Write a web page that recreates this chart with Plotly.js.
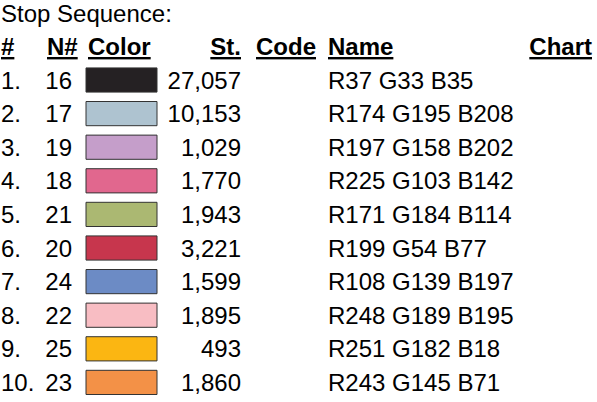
<!DOCTYPE html>
<html><head><meta charset="utf-8">
<script src="https://cdn.plot.ly/plotly-3.0.1.min.js"></script>
<style>html,body{margin:0;padding:0;background:#fff}#chart{width:597px;height:402px}</style>
</head><body><div id="chart"></div>
<script>
// ---- data ----
const titleText = 'Stop Sequence:';
const headers = ['#', 'N#', 'Color', 'St.', 'Code', 'Name', 'Chart'];
const seq = [1, 2, 3, 4, 5, 6, 7, 8, 9, 10];
const needle = [16, 17, 19, 18, 21, 20, 24, 22, 25, 23];
const stitches = [27057, 10153, 1029, 1770, 1943, 3221, 1599, 1895, 493, 1860];
const red = [37, 174, 197, 225, 171, 199, 108, 248, 251, 243];
const green = [33, 195, 158, 103, 184, 54, 139, 189, 182, 145];
const blue = [35, 208, 202, 142, 114, 77, 197, 195, 18, 71];

// ---- layout constants ----
const FONT = 'Liberation Sans, Arial, sans-serif';
const FS = 24;
const X_NUM = 1, X_NEEDLE_R = 72, X_SW = 86, SW_W = 71, X_ST_R = 241, X_CODE = 256, X_NAME = 328, X_CHART_R = 592;
const headerX = [1, 47, 88, X_ST_R, X_CODE, X_NAME, X_CHART_R];
const headerPos = ['middle right', 'middle right', 'middle right', 'middle left', 'middle right', 'middle right', 'middle left'];
const Y_RANGE = [10.583, -1.381];
const TEXT_SHIFT = 0.077; // text baseline tweak (row units)

const names = seq.map((_, i) => 'R' + red[i] + ' G' + green[i] + ' B' + blue[i]);
const colors = seq.map((_, i) => 'rgb(' + red[i] + ',' + green[i] + ',' + blue[i] + ')');
const font = {family: FONT, size: FS, color: '#000'};

const traces = [
  { type: 'bar', orientation: 'h', y: seq, x: seq.map(() => SW_W), base: X_SW, width: 0.72,
    marker: {color: colors, line: {color: '#333333', width: 1}}, hoverinfo: 'skip' },
  { type: 'scatter', mode: 'text', x: headerX, y: headers.map(() => 0), yaxis: 'y2',
    text: headers.map(h => '<u>' + h + '</u>'), textposition: headerPos,
    textfont: Object.assign({}, font, {weight: 'bold'}), hoverinfo: 'skip' },
  { type: 'scatter', mode: 'text', x: seq.map(() => X_NUM), y: seq, yaxis: 'y2',
    text: seq.map(s => s + '.'), textposition: 'middle right', textfont: font, hoverinfo: 'skip' },
  { type: 'scatter', mode: 'text', x: seq.map(() => X_NEEDLE_R), y: seq, yaxis: 'y2',
    text: needle.map(String), textposition: 'middle left', textfont: font, hoverinfo: 'skip' },
  { type: 'scatter', mode: 'text', x: seq.map(() => X_ST_R), y: seq, yaxis: 'y2',
    text: stitches.map(v => v.toLocaleString('en-US')), textposition: 'middle left', textfont: font, hoverinfo: 'skip' },
  { type: 'scatter', mode: 'text', x: seq.map(() => X_NAME), y: seq, yaxis: 'y2',
    text: names, textposition: 'middle right', textfont: font, hoverinfo: 'skip' }
];

const layout = {
  width: 597, height: 402,
  margin: {l: 0, r: 0, t: 0, b: 0, pad: 0},
  paper_bgcolor: '#fff', plot_bgcolor: '#fff',
  showlegend: false, hovermode: false,
  title: {text: titleText, font: font, x: 1 / 597, xref: 'paper', xanchor: 'left',
          y: 1 - 13.5 / 402, yref: 'container', yanchor: 'middle'},
  xaxis: {range: [0, 597], visible: false, fixedrange: true},
  yaxis: {range: Y_RANGE, visible: false, fixedrange: true},
  yaxis2: {range: [Y_RANGE[0] - TEXT_SHIFT, Y_RANGE[1] - TEXT_SHIFT], overlaying: 'y',
           visible: false, fixedrange: true}
};

Plotly.newPlot('chart', traces, layout, {staticPlot: true, displayModeBar: false});
</script>
</body></html>
